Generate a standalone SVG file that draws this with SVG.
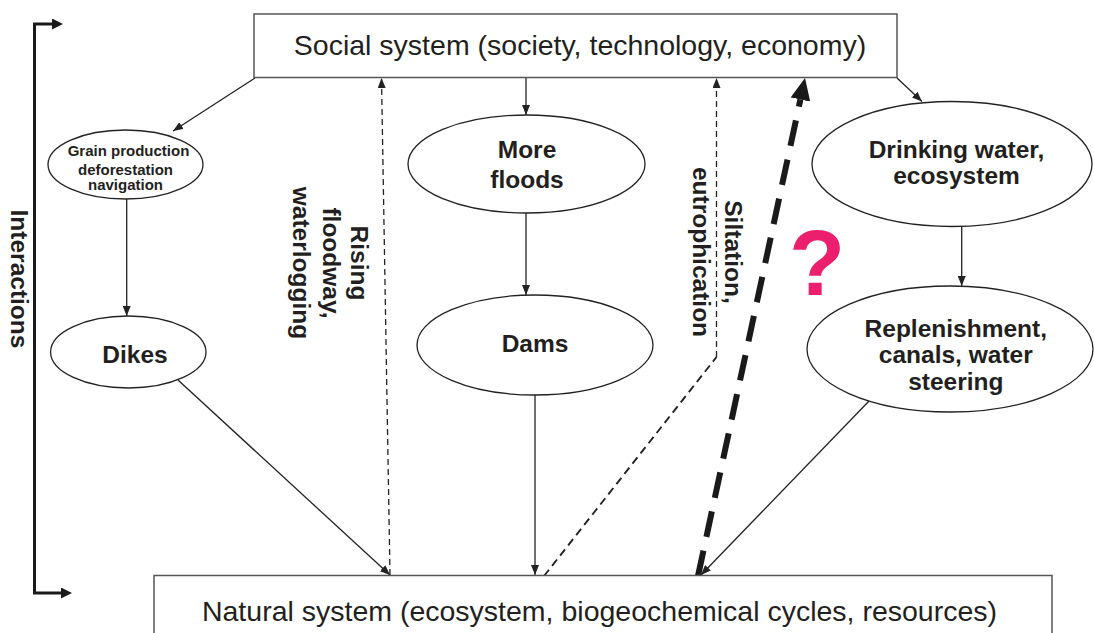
<svg xmlns="http://www.w3.org/2000/svg" width="1094" height="633" viewBox="0 0 1094 633">
  <style>
    .box { fill: #fff; stroke: #555; stroke-width: 1.5; }
    .node { fill: #fff; stroke: #222; stroke-width: 1.3; }
    .t { font-family: "Liberation Sans", Arial, sans-serif; fill: #231f20; text-anchor: middle; }
    .reg { font-size: 28.5px; }
    .b { font-size: 24.5px; font-weight: bold; }
    .sm { font-size: 15px; font-weight: bold; }
    .ln { stroke: #222; stroke-width: 1.3; fill: none; }
    .dsh { stroke: #222; stroke-width: 1.3; fill: none; stroke-dasharray: 6 4; }
    .dsh2 { stroke: #222; stroke-width: 1.9; fill: none; stroke-dasharray: 8 5; }
    .thick { stroke: #1a1a1a; stroke-width: 6; fill: none; stroke-dasharray: 26 14; }
    .brk { stroke: #1a1a1a; stroke-width: 3; fill: none; }
  </style>
  <defs>
    <marker id="ah" markerWidth="10" markerHeight="8" refX="10" refY="4" orient="auto" markerUnits="userSpaceOnUse">
      <path d="M0,0 L10,4 L0,8 z" fill="#222"/>
    </marker>
    <marker id="bh" markerWidth="11" markerHeight="11" refX="0" refY="5.5" orient="auto-start-reverse" markerUnits="userSpaceOnUse">
      <path d="M0,0 L11,5.5 L0,11 z" fill="#1a1a1a"/>
    </marker>
    <marker id="th" markerWidth="22" markerHeight="20" refX="0" refY="10" orient="auto" markerUnits="userSpaceOnUse">
      <path d="M0,0 L22,10 L0,20 z" fill="#1a1a1a"/>
    </marker>
  </defs>

  <g id="connectors">
    <line class="ln" x1="255" y1="78" x2="173" y2="131" marker-end="url(#ah)"/>
    <line class="ln" x1="526" y1="78" x2="526" y2="115" marker-end="url(#ah)"/>
    <line class="ln" x1="897" y1="78" x2="922" y2="101.5" marker-end="url(#ah)"/>
    <line class="ln" x1="126.7" y1="199" x2="126.7" y2="316" marker-end="url(#ah)"/>
    <line class="ln" x1="526" y1="213" x2="526" y2="295" marker-end="url(#ah)"/>
    <line class="ln" x1="961.7" y1="227" x2="961.7" y2="286" marker-end="url(#ah)"/>
    <line class="ln" x1="178" y1="380" x2="390" y2="575" marker-end="url(#ah)"/>
    <line class="ln" x1="535" y1="395" x2="535" y2="575" marker-end="url(#ah)"/>
    <line class="ln" x1="870" y1="400" x2="701" y2="575" marker-end="url(#ah)"/>
    <line class="dsh" x1="390" y1="575" x2="381.5" y2="78" marker-end="url(#ah)"/>
    <path class="dsh2" d="M544,576 L716.5,357"/>
    <path class="dsh" d="M716.5,357 L716.5,78" marker-end="url(#ah)"/>
    <line class="thick" x1="698" y1="576" x2="800.4" y2="99.5" marker-end="url(#th)"/>
    <path class="brk" d="M52,24 L34.5,24 L34.5,593 L61,593" marker-start="url(#bh)" marker-end="url(#bh)"/>
  </g>

  <g id="social">
    <rect class="box" x="254" y="14" width="643" height="63.5"/>
    <text class="t reg" x="580" y="55">Social system (society, technology, economy)</text>
  </g>

  <g id="natural">
    <rect class="box" x="154" y="575.5" width="898" height="70"/>
    <text class="t reg" x="599.5" y="621">Natural system (ecosystem, biogeochemical cycles, resources)</text>
  </g>

  <g id="grain">
    <ellipse class="node" cx="125.5" cy="164.5" rx="77.5" ry="34.5"/>
    <text class="t sm" x="128.5" y="156">Grain production</text>
    <text class="t sm" x="125.5" y="175">deforestation</text>
    <text class="t sm" x="125.5" y="190">navigation</text>
  </g>

  <g id="dikes">
    <ellipse class="node" cx="128.3" cy="352" rx="77.7" ry="36"/>
    <text class="t b" x="135" y="362.5">Dikes</text>
  </g>

  <g id="floods">
    <ellipse class="node" cx="526.5" cy="164" rx="118.5" ry="49"/>
    <text class="t b" x="527" y="158">More</text>
    <text class="t b" x="527" y="188">floods</text>
  </g>

  <g id="dams">
    <ellipse class="node" cx="535" cy="345" rx="118" ry="50"/>
    <text class="t b" x="535" y="351.5">Dams</text>
  </g>

  <g id="drinking">
    <ellipse class="node" cx="952" cy="164" rx="140" ry="62.5"/>
    <text class="t b" x="956.5" y="157.5">Drinking water,</text>
    <text class="t b" x="956.5" y="183.5">ecosystem</text>
  </g>

  <g id="replenishment">
    <ellipse class="node" cx="950" cy="349" rx="143" ry="63"/>
    <text class="t b" x="955.8" y="336.5">Replenishment,</text>
    <text class="t b" x="955.8" y="363">canals, water</text>
    <text class="t b" x="955.8" y="389.5">steering</text>
  </g>

  <g id="label-interactions">
    <text class="t b" transform="translate(11,279) rotate(90)" x="0" y="0">Interactions</text>
  </g>

  <g id="label-rising">
    <g transform="translate(351,263) rotate(90)">
      <text class="t b" x="0" y="0">Rising</text>
      <text class="t b" x="0" y="28.5">floodway,</text>
      <text class="t b" x="0" y="58.5">waterlogging</text>
    </g>
  </g>

  <g id="label-siltation">
    <g transform="translate(725,252) rotate(90)">
      <text class="t b" x="0" y="0">Siltation,</text>
      <text class="t b" x="0" y="32">eutrophication</text>
    </g>
  </g>

  <g id="question">
    <text class="t" x="817" y="295" style="font-size:92px;font-weight:bold;fill:#ec1e6e">?</text>
  </g>
</svg>
